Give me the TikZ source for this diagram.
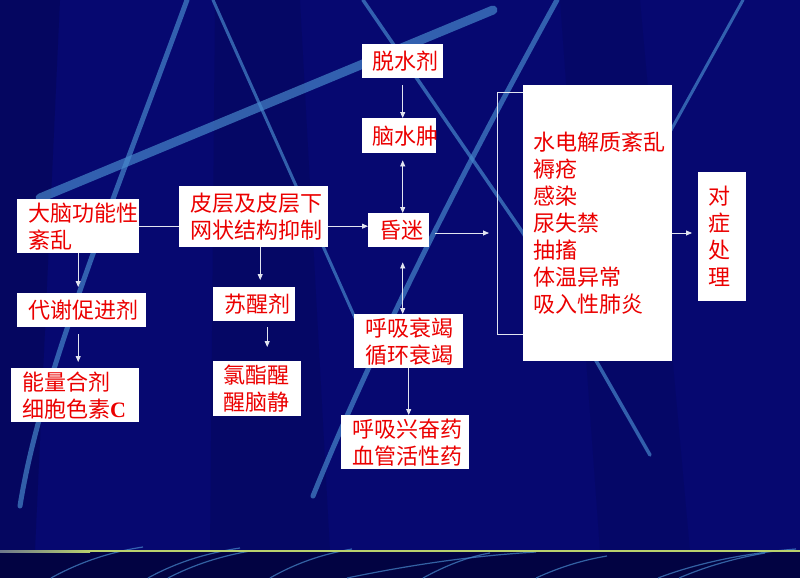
\documentclass[tikz,border=0pt]{standalone}
\usepackage{fontspec}
\newfontfamily\cjk{Noto Sans CJK SC}
\newfontfamily\serifb{Liberation Serif}
\usetikzlibrary{arrows.meta,calc}
\definecolor{bg}{RGB}{6,8,112}
\definecolor{bgdark}{RGB}{2,3,66}
\definecolor{streak}{RGB}{72,138,205}
\definecolor{txtred}{RGB}{235,0,0}
\definecolor{arrowc}{RGB}{225,228,240}
\definecolor{gline}{RGB}{185,210,110}
\definecolor{glinel}{RGB}{110,120,140}
\begin{document}
\begin{tikzpicture}[x=1pt,y=-1pt,
  box/.style={fill=white, anchor=north west, inner ysep=0pt, align=left, text=txtred, font=\cjk\fontsize{22}{27}\selectfont},
  conn/.style={draw=arrowc, line width=0.8pt},
  arr/.style={conn, -{Triangle[length=6pt,width=5pt]}},
  darr/.style={conn, {Triangle[length=6pt,width=5pt]}-{Triangle[length=6pt,width=5pt]}},
  streakline/.style={draw=streak, line cap=round, opacity=0.68},
  lowstreak/.style={draw=streak, line width=1.2pt, opacity=0.7}]
\useasboundingbox (0,0) rectangle (800,578);
% background
\fill[bg] (0,0) rectangle (800,578);
\fill[black, opacity=0.14] (0,0) -- (60,0) -- (35,551) -- (0,551) -- cycle;
\fill[black, opacity=0.09] (215,0) -- (300,0) -- (330,551) -- (210,551) -- cycle;
\fill[black, opacity=0.08] (560,0) -- (640,0) -- (690,551) -- (600,551) -- cycle;
% background streaks
\draw[streakline, line width=5pt] (187,0) .. controls (110,210) and (40,380) .. (20,506);
\draw[streakline, line width=3pt] (213,0) -- (356,320);
\draw[streakline, line width=9pt] (493,10) -- (40,198);
\draw[streakline, line width=3.5pt] (363,0) -- (523,233) -- (650,455);
\draw[streakline, line width=5pt] (557,0) .. controls (480,140) and (380,330) .. (313,496);
\draw[streakline, line width=3pt] (743,0) -- (660,150);
% bottom strip
\fill[bgdark] (0,551) rectangle (800,578);
\draw[lowstreak] (51,578) .. controls (80,562) and (110,552) .. (143,547);
\draw[lowstreak] (148,578) .. controls (177,562) and (207,553) .. (240,548);
\draw[lowstreak] (168,578) .. controls (195,564) and (222,556) .. (250,551);
\draw[lowstreak] (270,578) .. controls (296,563) and (323,554) .. (352,549);
\draw[lowstreak] (347,578) .. controls (410,565) and (470,556) .. (536,552);
\draw[lowstreak] (423,578) .. controls (445,566) and (467,557) .. (490,553);
\draw[lowstreak] (536,578) .. controls (560,567) and (583,560) .. (607,556);
\draw[lowstreak] (658,578) .. controls (700,562) and (748,553) .. (796,549);
\draw[lowstreak] (679,578) .. controls (707,566) and (736,558) .. (765,553);
\shade[left color=glinel, right color=gline] (0,550) rectangle (90,552);
\fill[gline] (90,550) rectangle (800,552);
% boxes (width = text width + 2 inner xsep)
\node[box, inner xsep=11pt, text width=100pt, minimum height=54pt] (dn) at (17,199) {大脑功能性\\紊乱};
\node[box, inner xsep=11pt, text width=127pt, minimum height=61pt] (pc) at (179,186) {皮层及皮层下\\网状结构抑制};
\node[box, inner xsep=11pt, text width=107pt, minimum height=34pt] (dx) at (17,293) {代谢促进剂};
\node[box, inner xsep=11pt, text width=60pt, minimum height=34pt] (sx) at (213,287) {苏醒剂};
\node[box, inner xsep=11pt, text width=106pt, minimum height=54pt] (nl) at (11,368) {能量合剂\\细胞色素{\serifb\bfseries C}};
\node[box, inner xsep=10pt, text width=68pt, minimum height=55pt] (lz) at (213,361) {氯酯醒\\醒脑静};
\node[box, inner xsep=10pt, text width=61pt, minimum height=34pt] (ts) at (362,44) {脱水剂};
\node[box, inner xsep=5pt, text width=64pt, minimum height=35pt] (nz) at (362,118) {\hspace*{5pt}脑水肿};
\node[box, inner xsep=11pt, text width=39pt, minimum height=34pt] (hm) at (368,213) {昏迷};
\node[box, inner xsep=11pt, text width=87pt, minimum height=54pt] (hx) at (354,314) {呼吸衰竭\\循环衰竭};
\node[box, inner xsep=11pt, text width=106pt, minimum height=54pt] (hxx) at (341,415) {呼吸兴奋药\\血管活性药};
\node[box, inner xsep=10pt, text width=129pt, minimum height=276pt] (big) at (523,85) {水电解质紊乱\\褥疮\\感染\\尿失禁\\抽搐\\体温异常\\吸入性肺炎};
\node[box, inner xsep=10pt, text width=28pt, minimum height=129pt] (dz) at (698,172) {对\\症\\处\\理};
% connectors
\coordinate (ba) at (489,233);
\coordinate (bt) at (497,92);
\coordinate (bb) at (497,334);
\draw[conn] (dn.east) -- (dn.east -| pc.west);
\draw[arr] (pc.east |- dn.east) -- (hm.west |- dn.east);
\draw[arr] ($(hm.east |- ba)+(6,0)$) -- (ba);
\draw[arr] (big.east |- ba) -- ($(dz.west |- ba)+(-6,0)$);
\draw[conn] (big.west |- bt) -- (bt) -- (bb) -- (big.west |- bb);
\draw[arr, shorten >=6pt] (dn.south) -- (dn.south |- dx.north);
\draw[arr, shorten <=7pt, shorten >=6pt] (dn.south |- dx.south) -- (dn.south |- nl.north);
\draw[arr, shorten >=7pt] ($(pc.south)+(6.5,0)$) -- ($(pc.south |- sx.north)+(6.5,0)$);
\draw[arr, shorten <=6pt, shorten >=14pt] ($(sx.south)+(13,0)$) -- ($(sx.south |- lz.north)+(13,0)$);
\draw[arr, shorten <=7pt] (ts.south) -- (ts.south |- nz.north);
\draw[darr, shorten <=7pt] (ts.south |- nz.south) -- (ts.south |- hm.north);
\draw[darr, shorten <=15pt] (ts.south |- hm.south) -- (ts.south |- hx.north);
\draw[arr] (hx.south) -- (hx.south |- hxx.north);
\end{tikzpicture}
\end{document}
